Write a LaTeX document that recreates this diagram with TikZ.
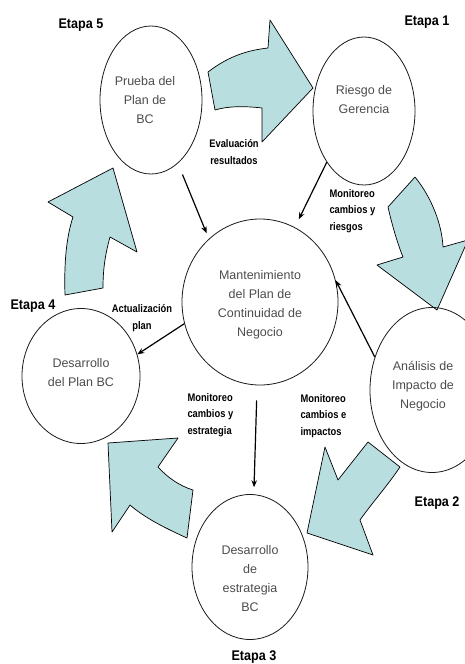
\documentclass[tikz,border=0pt]{standalone}
\usepackage{fontspec}
\setmainfont{Liberation Sans}
\newfontfamily\etapafont[FakeStretch=0.9]{Liberation Sans}
\newfontfamily\flowfont[FakeStretch=0.85]{Liberation Sans}
\usetikzlibrary{arrows.meta, shapes.geometric}
\definecolor{arrowfill}{HTML}{B9DEE0}

\begin{document}
\begin{tikzpicture}[
    x=1pt,
    y=-1pt,
    >={Stealth[length=7pt,width=5.5pt]},
    stage/.style={ellipse, draw=black!90, line width=0.8pt, inner sep=0pt},
    stagetext/.style={align=center, text=black!70, font=\fontsize{12.5}{19}\selectfont},
    etapa/.style={font=\etapafont\bfseries\fontsize{14}{16}\selectfont},
    flowlabel/.style={font=\flowfont\bfseries\fontsize{11}{16.5}\selectfont},
    flow/.style={->, line width=1.2pt},
    bigarrow/.style={fill=arrowfill, draw=black, line width=0.7pt, line join=round},
]

    \useasboundingbox (0,0) rectangle (465,664);

    % big arrows of the cycle
    \draw[bigarrow] (208,72) .. controls (230,55) and (250,50) .. (268,48)
        -- (270,20) -- (313,88) -- (262,142) -- (262,108)
        .. controls (245,106) and (228,106) .. (215,110) -- cycle;
    \draw[bigarrow] (415,177) -- (388,207) .. controls (392,225) and (398,245) .. (403,257)
        -- (377,265) -- (437,310) -- (468,240) -- (443,247)
        .. controls (442,225) and (432,198) .. (415,177);
    \draw[bigarrow] (368,442) -- (400,467) .. controls (388,485) and (372,503) .. (360,520)
        -- (373,555) -- (307,533) -- (325,447) -- (338,480) -- cycle;
    \draw[bigarrow] (108,443) -- (178,438) -- (158,467) .. controls (168,478) and (180,486) .. (193,490)
        -- (187,538) .. controls (165,528) and (145,518) .. (130,505)
        -- (112,532) -- cycle;
    \draw[bigarrow] (113,168) -- (137,252) -- (110,237) .. controls (105,255) and (103,270) .. (103,288)
        -- (65,295) .. controls (64,265) and (66,238) .. (73,217)
        -- (48,202) -- cycle;

    % stages
    \node[stage, minimum width=102pt, minimum height=148pt,
          label={[stagetext, xshift=-6pt]center:{Prueba del\\Plan de\\BC}}]            (prueba)   at (151,100) {};
    \node[stage, minimum width=102pt, minimum height=148pt,
          label={[stagetext, yshift=11pt]center:{Riesgo de\\Gerencia}}]                 (riesgo)   at (364,111) {};
    \node[stage, minimum width=156pt, minimum height=166pt,
          label={[stagetext, yshift=-3pt]center:{Mantenimiento\\del Plan de\\Continuidad de\\Negocio}}] (mant) at (260,302) {};
    \node[stage, minimum width=118pt, minimum height=135pt,
          label={[stagetext, yshift=3pt]center:{Desarrollo\\del Plan BC}}]              (plan)     at (81,376)  {};
    \node[stage, minimum width=124pt, minimum height=165pt,
          label={[stagetext, xshift=-9pt, yshift=4pt]center:{Análisis de\\Impacto de\\Negocio}}] (analisis) at (432,390) {};
    \node[stage, minimum width=116pt, minimum height=145pt,
          label={[stagetext, yshift=-12pt]center:{Desarrollo\\de\\estrategia\\BC}}]     (estrategia) at (250,567) {};

    \node[etapa]              (etapa5) at (81,25)   {Etapa 5};
    \node[etapa]              (etapa1) at (427,22)  {Etapa 1};
    \node[etapa]              (etapa4) at (33,306)  {Etapa 4};
    \node[etapa, anchor=east] (etapa2) at (463,503) {Etapa 2};
    \node[etapa]              (etapa3) at (254,657) {Etapa 3};

    \node[flowlabel, align=center]            (evaluacion)  at (234,152) {Evaluación\\resultados};
    \node[flowlabel, align=left, anchor=west] (monriesgos)  at (326,211) {Monitoreo\\cambios y\\riesgos};
    \node[flowlabel, align=center]            (actualiza)   at (142,318) {Actualización\\plan};
    \node[flowlabel, align=left, anchor=west] (monestrat)   at (184,415) {Monitoreo\\cambios y\\estrategia};
    \node[flowlabel, align=left, anchor=west] (monimpacto)  at (297,416) {Monitoreo\\cambios e\\impactos};

    \path[flow]
        (prueba.-67)    edge [shorten <=12pt, shorten >=6pt] (mant.129)
        (riesgo.234)    edge [shorten >=9pt]                 (mant.65)
        (mant.196)      edge                                 (plan.21)
        (analisis.150)  edge                                 (mant.16)
        (mant.-92)      edge [shorten <=15pt, shorten >=7pt] (estrategia.87)
    ;
\end{tikzpicture}
\end{document}
